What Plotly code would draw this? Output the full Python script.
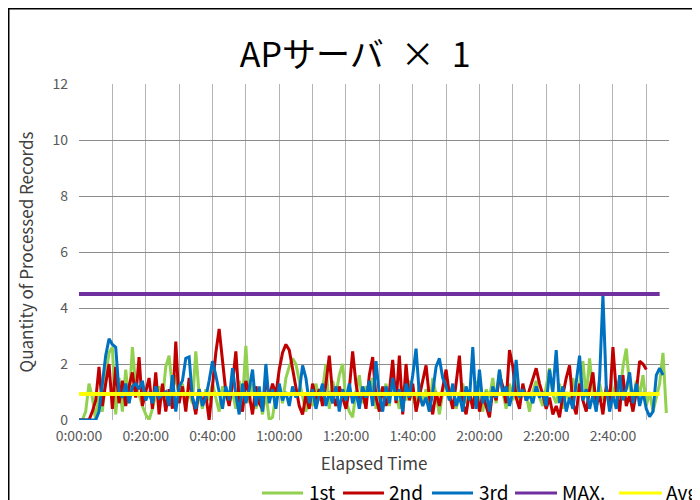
import plotly.graph_objects as go

# ---------------- data (one sample per minute) ----------------
series_names = ["1st", "2nd", "3rd", "MAX.", "Avg"]

first = [0, 0, 0.3, 1.3, 0.8, 0, 0.9, 0.3, 1.6, 2.4,
         2.6, 0.2, 1.5, 0.3, 1.8, 0.6, 2.6, 1.2, 0.9, 0.5,
         0.2, 0, 0.4, 0.9, 1.2, 0.7, 1.9, 2.3, 1.1, 1.6,
         0.8, 1.3, 0.5, 1.0, 0.6, 2.45, 0.9, 0.4, 1.1, 0.7,
         1.3, 0.8, 0.3, 1.2, 0.9, 0.6, 1.0, 0.4, 1.4, 0.7,
         2.65, 0.6, 1.3, 0.4, 0.8, 0.2, 1.0, 0, 0.1, 0.9,
         1.2, 0.6, 1.5, 1.9, 2.2, 2.0, 1.4, 0.8, 0.3, 1.0,
         0.5, 1.3, 0.7, 1.1, 2.0, 0.4, 1.4, 0.9, 1.6, 2.0,
         0.7, 0.3, 0.1, 1.0, 1.6, 0.6, 1.2, 0.9, 1.5, 0.4,
         1.1, 0.8, 1.3, 0.5, 1.6, 0.9, 0.4, 1.2, 0.7, 1.4,
         0.8, 0.5, 1.3, 0.6, 1.1, 0.3, 1.5, 0.9, 0.2, 1.0,
         1.6, 0.7, 1.2, 0.4, 0.9, 1.3, 0.6, 1.0, 0.5, 1.4,
         0.9, 0.3, 1.1, 0.8, 1.5, 0.6, 1.8, 1.0, 0.4, 1.3,
         0.7, 1.6, 0.5, 1.2, 0.9, 0.3, 1.0, 1.4, 0.8, 0.5,
         1.2, 1.85, 0.9, 0.6, 1.3, 0.4, 1.0, 0.7, 1.5, 0.9,
         1.3, 2.1, 0.8, 2.2, 1.0, 0.4, 1.3, 0.7, 1.1, 0.5,
         0.9, 1.4, 0.8, 1.9, 2.55, 1.2, 0.6, 1.4, 0.9, 1.6,
         0.5, 1.0, 0.3, 0.8, 1.3, 2.4, 0.25]

second = [0, 0, 0, 0, 0.3, 0.7, 1.9, 0.5, 1.3, 2.0,
          0.4, 1.9, 0.6, 1.4, 0.5, 1.2, 1.7, 0.8, 2.25, 0.5,
          1.0, 1.5, 0.4, 1.7, 0.2, 1.3, 0.3, 1.1, 0.4, 2.8,
          0.6, 1.2, 0.3, 1.5, 0.8, 0.2, 1.1, 0.6, 0.9, 0,
          1.2, 2.4, 3.25, 2.2, 1.0, 0.5, 1.3, 2.45, 0.7, 0.3,
          1.4, 0.9, 0.2, 1.2, 0.6, 0.4, 1.5, 0.8, 1.3, 0.9,
          1.8, 2.4, 2.7, 2.5, 1.8, 1.2, 0.5, 0.2, 0.9, 0.4,
          1.3, 0.7, 1.1, 0.5, 1.3, 2.3, 0.9, 0.5, 1.2, 0.8,
          0.4, 1.1, 2.45, 1.3, 0.6, 1.0, 0.4, 1.6, 2.25, 0.8,
          0.3, 1.2, 0.5, 1.0, 2.15, 0.6, 2.3, 0.2, 2.0, 0.7,
          1.3, 0.3, 0.9, 1.4, 1.95, 0.8, 0.2, 1.0, 0.5, 1.2,
          1.8, 0.9, 0.4, 1.3, 2.3, 0.6, 0.2, 1.0, 0.4, 1.2,
          0.3, 0.9, 0.5, 0.1, 1.1, 0.7, 1.6, 1.2, 0.6, 2.5,
          1.9, 0.8, 0.4, 1.3, 0.7, 1.1, 1.5, 1.85, 1.3, 0.9,
          0.4, 0.8, 0.2, 0.5, 0.1, 0.9, 1.5, 1.95, 0.6, 0.2,
          1.3, 0.7, 0.3, 1.1, 1.7, 0.5, 0.9, 0.2, 1.2, 0.6,
          2.6, 1.0, 0.3, 1.6, 0.5, 0.9, 0.3, 1.0, 2.1, 2.0,
          1.8]

third = [0, 0, 0, 0, 0, 0, 0.3, 1.2, 2.3, 2.9,
         2.7, 2.6, 1.0, 0.8, 1.3, 0.6, 1.2, 1.3, 1.1, 1.4,
         0.7, 1.0, 0.6, 1.2, 0.8, 0.9, 1.0, 0.5, 1.6, 0.3,
         1.2, 1.4, 2.2, 2.25, 0.8, 0.4, 1.1, 0.5, 0.8, 1.4,
         2.1, 1.6, 1.0, 0.4, 1.2, 0.7, 1.85, 0.9, 0.2, 1.3,
         0.6, 1.1, 1.8, 0.5, 1.2, 0.3, 2.0, 0.6, 1.1, 0.4,
         1.3, 0.7, 1.0, 0.5, 1.2, 0.8, 1.0, 1.95, 1.5, 0.6,
         1.1, 0.4, 0.9, 1.3, 0.5, 1.0, 0.6, 1.2, 0.3, 1.1,
         0.7, 1.3, 0.6, 1.0, 0.4, 1.2, 0.8, 1.4, 0.5, 2.1,
         0.9, 0.3, 1.2, 0.6, 1.5, 0.7, 1.1, 0.3, 1.3, 0.8,
         1.6, 2.55, 0.9, 0.5, 0.8, 0.3, 1.0, 1.9, 2.2, 1.5,
         1.2, 0.7, 1.3, 0.5, 0.9, 0.3, 1.2, 0.7, 2.6, 0.4,
         1.8, 0.6, 1.0, 0.3, 1.2, 0.8, 1.8, 0.9, 1.2, 0.5,
         1.0, 2.15, 0.8, 1.1, 0.7, 0.9, 0.6, 1.2, 0.8, 1.0,
         0.5, 1.8, 1.0, 2.5, 0.6, 1.2, 0.3, 0.8, 0.4, 1.3,
         2.3, 0.7, 1.1, 0.4, 0.9, 0.3, 1.5, 4.45, 1.2, 0.3,
         0.9, 0.4, 1.6, 0.7, 1.1, 1.7, 0.6, 1.3, 0.5, 1.0,
         0.4, 0.12, 0.3, 1.6, 1.85, 1.6]

max_value = 4.5
avg_value = 0.93
ref_points = 175  # minutes covered by the MAX / Avg reference lines

x_ticks = [0, 10, 20, 30, 40, 50, 60, 70, 80, 90, 100, 110, 120, 130, 140, 150, 160, 170]
x_labels = ["0:00:00", "", "0:20:00", "", "0:40:00", "", "1:00:00", "", "1:20:00", "",
            "1:40:00", "", "2:00:00", "", "2:20:00", "", "2:40:00", ""]
y_ticks = [0, 2, 4, 6, 8, 10, 12]

colors = ["#92D050", "#C00000", "#0070C0", "#7030A0", "#FFFF00"]
widths = [3, 3, 3, 4, 4]

# ---------------- figure ----------------
FONT = "Noto Sans CJK JP, Noto Sans, sans-serif"
fig = go.Figure()

data_sets = [first, second, third,
             [max_value] * ref_points, [avg_value] * ref_points]
for name, vals, col, w in zip(series_names, data_sets, colors, widths):
    fig.add_trace(go.Scatter(
        x=list(range(len(vals))), y=vals, mode="lines", name=name,
        line=dict(color=col, width=w), showlegend=False,
    ))

# manual legend (the original legend runs off the right edge)
legend_y = -0.217
legend_pos = [(0.3102, 0.3797, 0.3864), (0.4475, 0.5169, 0.5220),
              (0.5983, 0.6678, 0.6746), (0.7390, 0.8102, 0.8153),
              (0.9153, 0.9881, 0.9915)]
for name, col, (x0, x1, xt) in zip(series_names, colors, legend_pos):
    fig.add_shape(type="line", xref="paper", yref="paper",
                  x0=x0, x1=x1, y0=legend_y, y1=legend_y,
                  line=dict(color=col, width=3))
    fig.add_annotation(text=name, xref="paper", yref="paper", x=xt, y=legend_y + 0.004,
                       xanchor="left", yanchor="middle", showarrow=False,
                       font=dict(family=FONT, size=19, color="black"))

# outer chart border
fig.add_shape(type="rect", xref="paper", yref="paper",
              x0=-0.1195, x1=2.0, y0=-1.0, y1=1.2247,
              line=dict(color="black", width=2), layer="below")

fig.update_layout(
    width=700, height=500,
    margin=dict(l=71, r=39, t=76, b=88, autoexpand=False),
    paper_bgcolor="white", plot_bgcolor="white",
    font=dict(family=FONT, color="#595959"),
    title=dict(text="APサーバ\u2002×\u20021", x=0.496, xanchor="center",
               y=0.906, yanchor="middle", font=dict(family=FONT, size=34, color="black")),
    xaxis=dict(range=[0, 176.8], tickmode="array", tickvals=x_ticks, ticktext=x_labels,
               showgrid=True, gridcolor="#B4B4B4", gridwidth=1, zeroline=False,
               showline=False, ticks="", ticklabelstandoff=6, automargin=False,
               tickfont=dict(size=14, color="#595959"),
               title=dict(text="Elapsed Time", font=dict(size=17, color="#404040"), standoff=14)),
    yaxis=dict(range=[0, 12], tickmode="array", tickvals=y_ticks,
               showgrid=True, gridcolor="#8C8C8C", gridwidth=1, zeroline=False,
               showline=False, ticks="", ticklabelstandoff=10, automargin=False,
               tickfont=dict(size=14, color="#595959"),
               title=dict(text="Quantity of Processed Records",
                          font=dict(size=17, color="#404040"), standoff=14)),
)

fig.write_html("out.html")
